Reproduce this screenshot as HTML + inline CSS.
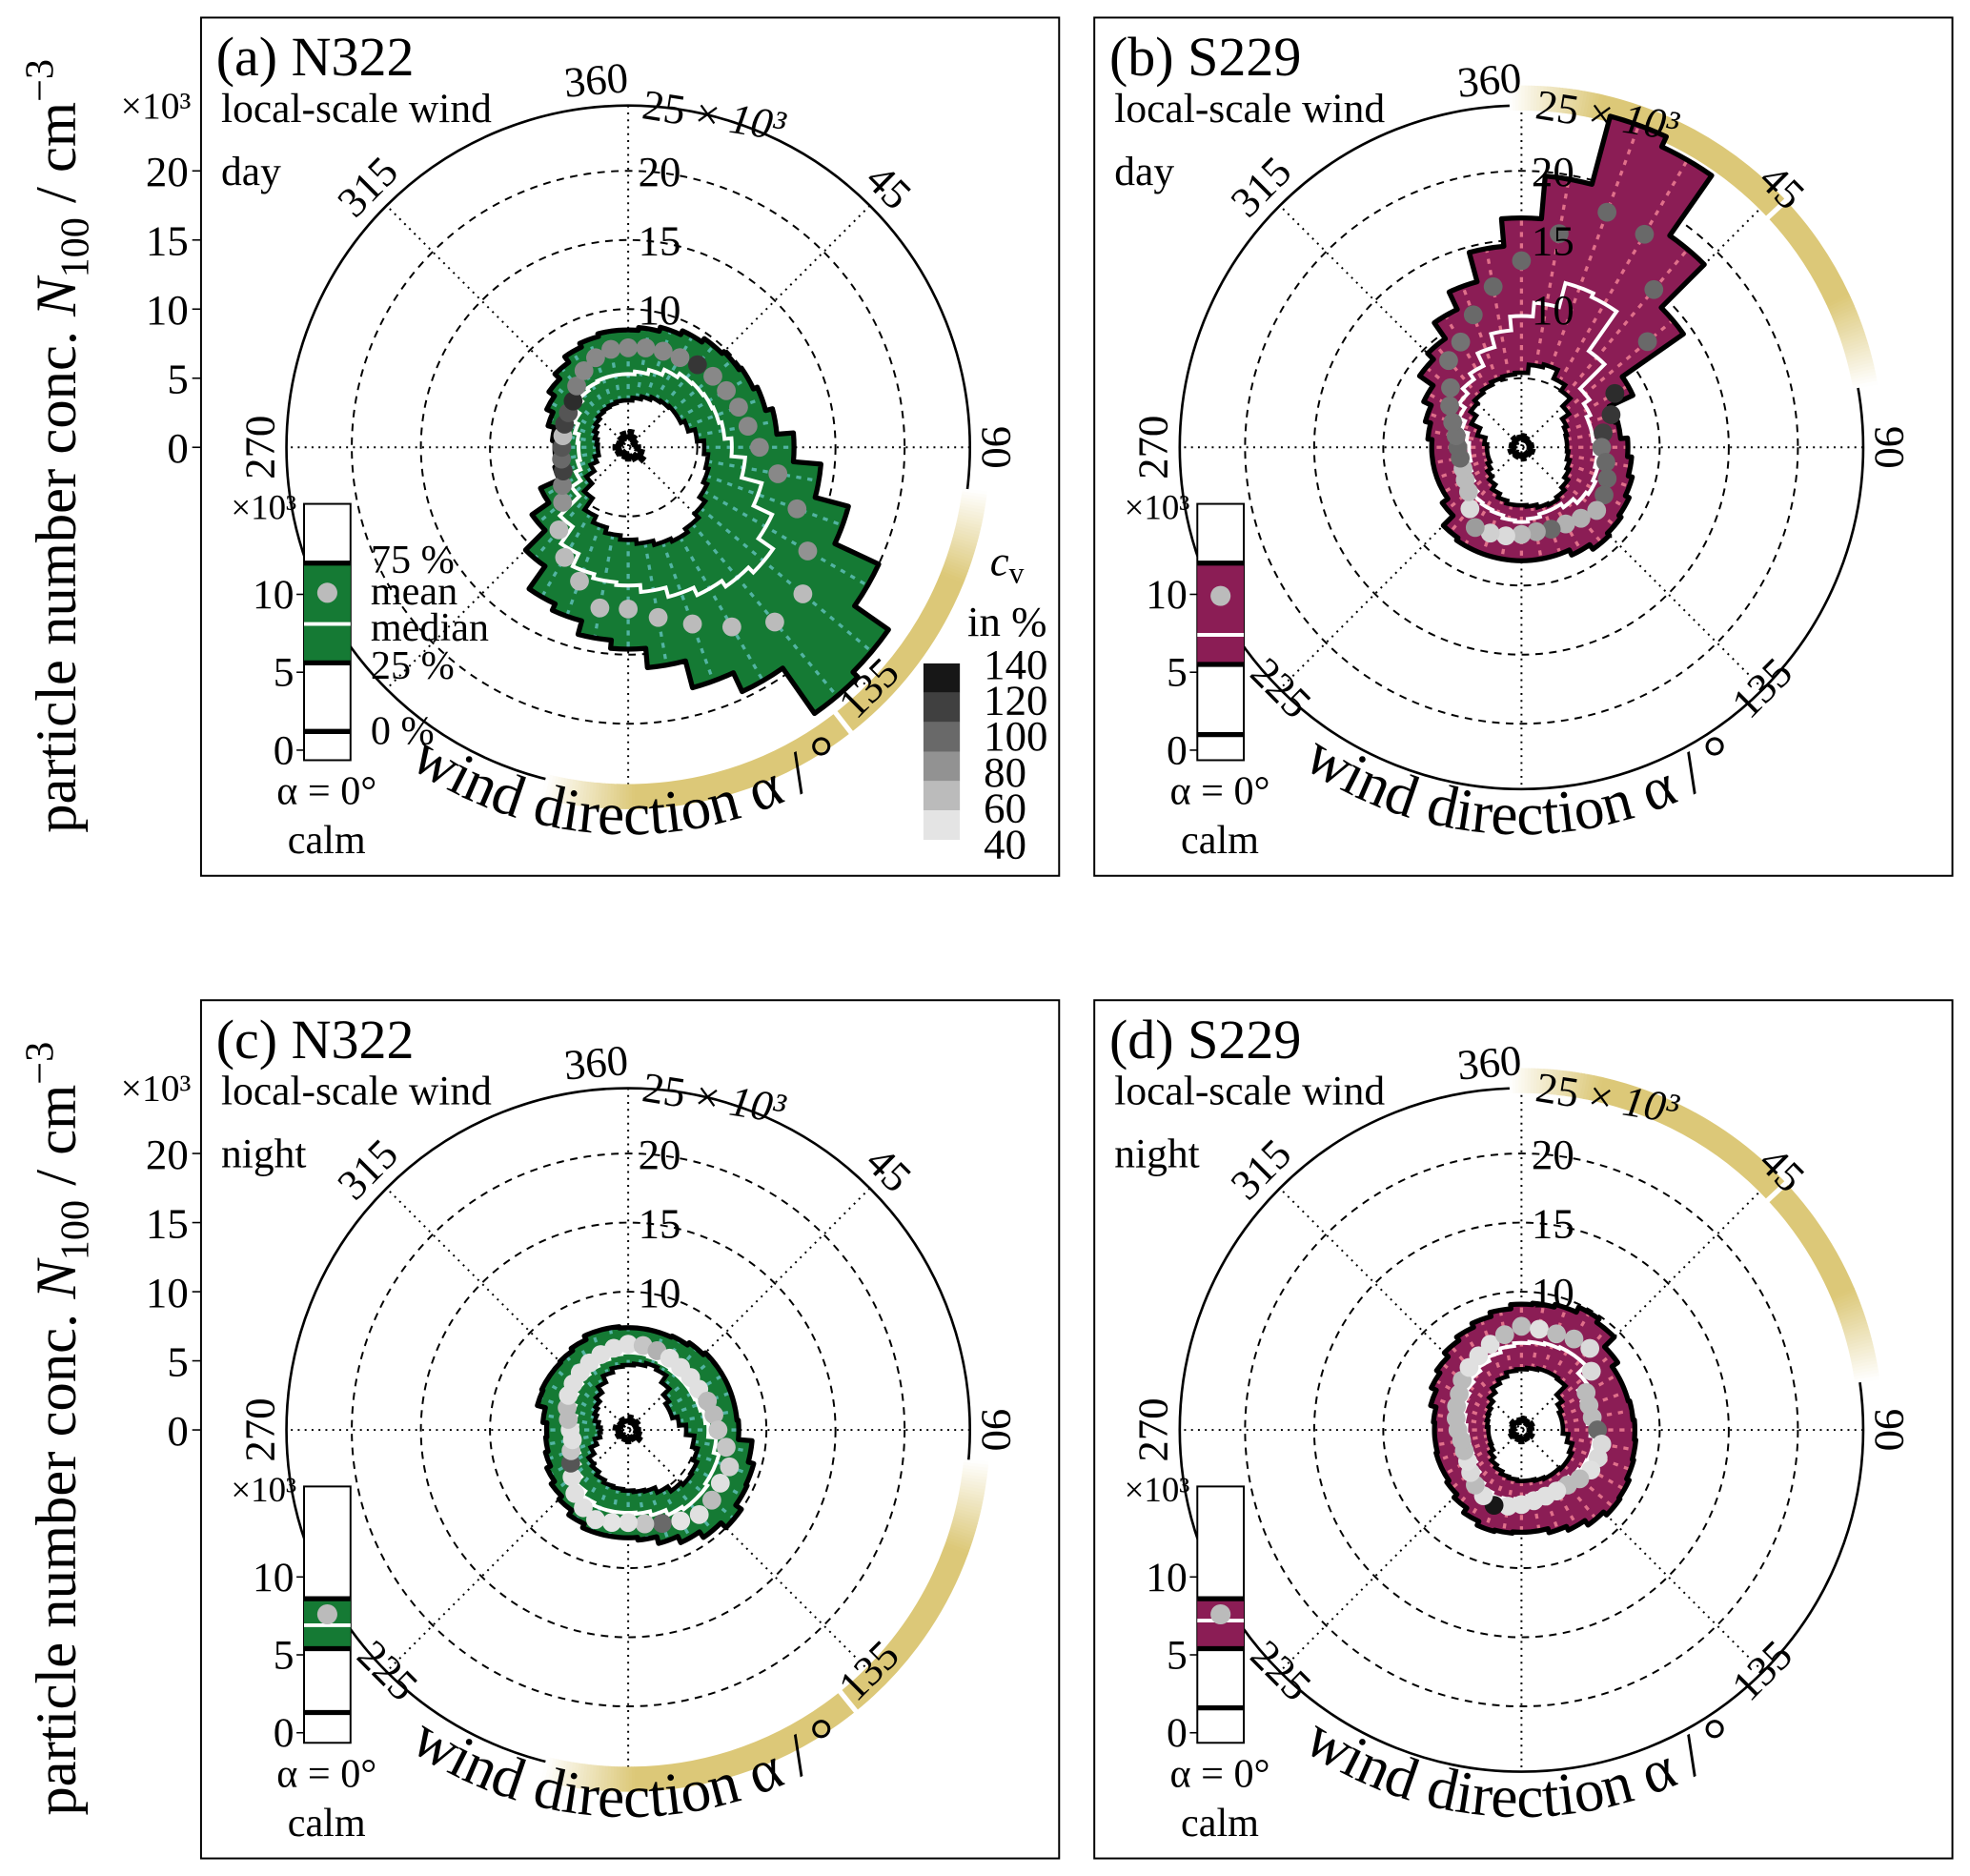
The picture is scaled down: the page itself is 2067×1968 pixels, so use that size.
<!DOCTYPE html>
<html><head><meta charset="utf-8"><style>
html,body{margin:0;padding:0;background:#fff}
svg{display:block}
text{font-family:"Liberation Serif",serif;fill:#000}
</style></head><body>
<svg id="fig" width="2067" height="1968" viewBox="0 0 1568 1493" preserveAspectRatio="none" xmlns="http://www.w3.org/2000/svg">
<rect width="1568" height="1493" fill="#fff"/>
</svg>
<script>
const dirs=[0,10,20,30,40,50,60,70,80,90,100,110,120,130,140,150,160,170,180,190,200,210,220,230,240,250,260,270,280,290,300,310,320,330,340,350];
// panel a (N322 day)
const aQ75=[8.5,8.7,9,9.3,9.6,9.8,10,10.3,10.8,12,14,16.5,20,23,23.5,19.5,18,16,14.6,14,13,12.5,10.5,8.5,7,5.5,5.3,5.3,5.5,6,6.5,7,7.5,8,8.3,8.5];
const aMed=[5.3,5.5,5.8,6.2,6.5,6.6,6.7,6.8,7,7.5,8.5,10,11.5,12.8,12.3,11.8,11.2,10.5,10,9.8,9.5,8.5,7,5,4.2,3.8,3.6,3.6,3.7,4,4.3,4.7,5,5.2,5.3,5.3];
const aQ25=[3.4,3.6,3.8,4,4.1,4.2,4.2,4.5,5,5.5,5.8,6,6.3,6.8,7.2,7.5,7.3,7,6.7,6.4,6,5.5,4.5,3.7,3,2.5,2.2,2.2,2.3,2.5,2.7,2.9,3.1,3.2,3.3,3.4];
const aMean=[7.2,7.3,7.4,7.5,7.8,8,8.2,8.5,8.8,9.5,11,13,15,16.5,16.5,15,13.6,12.5,11.7,11.8,10.3,9.2,7.8,6.2,5.5,5,4.9,4.8,4.8,4.9,5,5.2,5.8,6.4,6.9,7.2];
const aCv=[85,85,85,85,125,85,85,85,85,85,85,85,80,60,60,60,60,60,60,60,60,60,60,80,90,120,100,110,60,120,110,130,90,85,85,85];
const aMin=[0.8,1.2,0.6,0.9,0.5,0.7,0.4,0.6,0.5,0.8,0.6,1.1,0.9,1.4,0.7,1,0.8,0.6,0.9,0.5,0.8,0.6,0.4,0.7,0.9,0.6,0.8,1,0.6,0.8,0.5,0.7,0.9,0.6,1.1,0.7];
// panel b (S229 day)
const bQ75=[16.6,19.7,24.8,24,18.7,14.3,8.9,7,7.2,7.7,8,8.3,8.6,8.8,9,8.6,8.2,8.2,8.2,8.2,8.2,8.2,8,7,6.5,6.5,6.5,6.5,6.8,7.2,7.8,9,9.6,11,12.4,14.6];
const bMed=[9.5,10.5,12.3,12,8.5,6,5.5,5.2,5.2,5.3,5.5,5.7,5.9,5.7,5.3,5,5,5.2,5.4,5.3,5.1,5,4.9,4.5,4.2,4,3.8,3.8,4,4.5,5,5.5,6,6.5,7.5,8.5];
const bQ25=[5.4,6,6.2,5.5,5,4.2,3.6,3.4,3.3,3.3,3.4,3.6,3.8,4.1,4.4,4.6,4.5,4.3,4.2,4.2,4,3.7,3.3,3,2.7,2.5,2.5,2.5,2.7,3.3,4,4.5,4.8,5,5.2,5.3];
const bMean=[13.5,15.7,18.1,17.8,14.9,11.9,7.8,6.9,6,5.8,6.2,6.6,6.9,7.1,6.7,6.4,6.3,6.2,6.3,6.5,6.6,6.7,5.8,5,4.7,4.5,4.5,4.6,4.8,5.3,6,6.7,8.2,8.8,10.2,11.8];
const bCv=[100,100,100,100,100,100,130,125,120,95,100,100,100,65,65,65,100,70,60,45,50,75,45,60,60,60,100,100,95,95,95,95,95,95,100,100];
const bMin=[0.6,0.9,0.5,0.8,0.6,0.7,0.5,0.6,0.8,0.5,0.7,0.9,0.6,0.8,0.5,0.7,0.6,0.9,0.5,0.7,0.6,0.8,0.5,0.6,0.7,0.9,0.6,0.5,0.8,0.6,0.7,0.5,0.9,0.6,0.7,0.8];
// panel c (N322 night)
const cQ75=[7.4,7.4,7.4,7.5,7.7,7.9,7.9,7.9,7.9,8,9,9.4,9.5,10,9.5,9,8.5,8,7.8,7.8,7.8,7.5,7.1,6.8,6.5,6.2,6,5.9,6.2,6.8,6.9,6.9,7,7.2,7.5,7.5];
const cMed=[5.6,5.6,5.5,5.4,5.3,5.3,5.3,5.4,5.6,5.8,6.4,6.8,6.8,7,7,6.8,6.4,6.1,6,6,6,5.8,5.4,4.8,4.3,3.9,3.7,3.7,3.9,4.2,4.5,4.7,4.9,5.1,5.3,5.5];
const cQ25=[4.7,4.8,5,4.8,4.2,3.6,3.3,3.3,3.7,4.2,4.8,5.2,5.5,5.6,5.4,5,4.6,4.5,4.4,4.3,4.2,4,3.7,3.5,3,2.5,2.1,2,2.2,2.5,2.7,2.9,3.3,3.8,4.3,4.6];
const cMean=[6.2,6.2,6.1,6,5.9,5.9,5.9,6.1,6.3,6.5,7.2,7.8,7.7,7.9,8,7.6,7.2,6.9,6.7,6.8,6.9,6.5,6,5.3,4.8,4.4,4.1,4.2,4.4,4.7,5,5.2,5.4,5.6,5.8,6];
const cCv=[42,55,65,42,42,42,42,60,60,55,55,50,42,60,42,40,100,55,42,40,42,42,42,42,110,55,42,42,60,60,42,42,42,42,42,42];
const cMin=[0.7,1,0.5,0.8,0.6,0.9,0.5,0.7,0.6,0.8,0.5,0.9,0.7,1.1,0.6,0.8,0.5,0.7,0.9,0.6,0.8,0.5,0.7,0.6,0.9,0.5,0.8,0.6,1,0.7,0.5,0.8,0.6,0.9,0.7,0.6];
// panel d (S229 night)
const dQ75=[9.1,9.2,9.4,9.8,9.5,8.5,8,8,8.1,8.2,8.3,8.4,8.6,8.7,8.4,8,7.7,7.4,7.4,7.5,7.6,7.3,6.9,6.6,6.4,6.4,6.3,6.3,6.4,6.8,7.2,7.5,7.9,8.2,8.5,8.8];
const dMed=[6.3,6.4,6.5,6.6,6.6,5.8,5,4.8,4.8,5,5.3,5.3,5.2,5,4.8,4.7,4.7,4.8,5,5.1,5.2,5,4.7,4.3,4,3.9,3.9,4,4.2,4.4,4.6,4.9,5.2,5.5,5.8,6.1];
const dQ25=[4.4,4.5,4.6,4.6,4.5,3.6,3.2,3,3,3,3.4,3.8,4,4,3.9,3.9,3.8,3.7,3.7,3.6,3.5,3.3,3.1,2.8,2.5,2.4,2.4,2.4,2.5,2.6,2.7,2.9,3.3,3.7,4,4.3];
const dMean=[7.5,7.4,7.4,7.6,7.7,6.6,5.4,5.2,5.2,5.5,5.9,5.9,5.8,5.5,5.2,5.1,5.1,5.2,5.4,5.6,5.8,5.5,5.2,4.8,4.5,4.4,4.4,4.6,4.8,5,5.2,5.6,5.9,6.2,6.6,7];
const dCv=[60,42,60,60,45,45,60,60,60,100,45,45,42,60,60,42,42,42,42,42,140,42,60,45,42,60,60,60,60,60,60,60,42,42,42,60];
const dMin=[0.7,0.9,0.6,0.8,0.5,0.7,0.9,0.6,0.8,0.5,0.7,0.6,0.9,0.7,0.5,0.8,0.6,0.7,0.9,0.5,0.8,0.6,0.7,0.5,0.9,0.6,0.8,0.7,0.5,0.6,0.8,0.9,0.6,0.7,0.5,0.8];
// calm insets: [q25, median, mean, q75, min]
const aCalm=[5.6,8.1,10.1,12,1.2];
const bCalm=[5.5,7.4,9.9,12,1];
const cCalm=[5.4,6.9,7.6,8.6,1.3];
const dCalm=[5.4,7.2,7.6,8.6,1.6];
const ringCircles=[5,10,15,20];
const ringTicks=[10,15,20];
const yTicks=[0,5,10,15,20];
const cvLevels=[140,120,100,80,60,40];

const NS='http://www.w3.org/2000/svg';
const svg=document.getElementById('fig');
const PX=11;
function el(tag,attrs,parent){const e=document.createElementNS(NS,tag);for(const k in attrs)e.setAttribute(k,attrs[k]);(parent||svg).appendChild(e);return e;}
function pt(cx,cy,ang,r){const a=ang*Math.PI/180;return [cx+r*Math.sin(a),cy-r*Math.cos(a)];}
function rScale(v){return v*PX;}
function stepPath(cx,cy,vals){let d='';for(let i=0;i<dirs.length;i++){const r=rScale(vals[i]);const p0=pt(cx,cy,dirs[i]-5,r),p1=pt(cx,cy,dirs[i]+5,r);d+=(i?'L':'M')+p0[0].toFixed(1)+','+p0[1].toFixed(1)+' A'+r.toFixed(1)+','+r.toFixed(1)+' 0 0 1 '+p1[0].toFixed(1)+','+p1[1].toFixed(1)+' ';}return d+'Z';}
function gray(cv){const t=Math.max(0,Math.min(1,(cv-40)/100));const v=Math.round(228-t*205);return 'rgb('+v+','+v+','+v+')';}
function txt(x,y,s,size,parent,extra){const t=el('text',Object.assign({x:x,y:y,'font-size':size},extra||{}),parent);t.textContent=s;return t;}
function mix(op){const r=Math.round(255-(255-220)*op),g=Math.round(255-(255-200)*op),b=Math.round(255-(255-120)*op);return 'rgb('+r+','+g+','+b+')';}

function panel(cfg){
  const g=el('g',{});
  
  
  const {cx,cy,ox,oy}=cfg;
  const fr=el('rect',{x:160+ox,y:14+oy,width:683,height:683,fill:'none',stroke:'#000','stroke-width':1.5},g);
  
  const grid=el('g',{},g);
  for(const v of ringCircles){el('circle',{cx:cx,cy:cy,r:rScale(v),fill:'none',stroke:'#000','stroke-width':1.5,'stroke-dasharray':'6 5'},grid);}
  for(let a=0;a<180;a+=45){const p0=pt(cx,cy,a,272),p1=pt(cx,cy,a+180,272);el('line',{x1:p0[0],y1:p0[1],x2:p1[0],y2:p1[1],stroke:'#000','stroke-width':1.5,'stroke-dasharray':'1.5 4'},grid);}
  el('circle',{cx:cx,cy:cy,r:272,fill:'none',stroke:'#000','stroke-width':2},grid);
  const gold=el('g',{},g);
  
  const [g0,g1]=cfg.gold;const fade=15;
  const m0=g0+fade,m1=g1-fade;
  { const p0=pt(cx,cy,m0,278),p1=pt(cx,cy,m1,278);
    el('path',{d:'M'+p0+' A278,278 0 '+((m1-m0)>180?1:0)+' 1 '+p1,stroke:mix(1),'stroke-width':20,fill:'none'},gold); }
  for(let a=g0;a<m0;a+=0.5){const op=(a-g0+0.25)/fade;const p0=pt(cx,cy,a,278),p1=pt(cx,cy,a+0.6,278);
    el('path',{d:'M'+p0+' A278,278 0 0 1 '+p1,stroke:mix(op),'stroke-width':20,fill:'none'},gold);}
  for(let a=m1;a<g1;a+=0.5){const op=(g1-a-0.25)/fade;const p0=pt(cx,cy,a-0.1,278),p1=pt(cx,cy,a+0.5,278);
    el('path',{d:'M'+p0+' A278,278 0 0 1 '+p1,stroke:mix(op),'stroke-width':20,fill:'none'},gold);}
  const tk0=pt(cx,cy,cfg.goldTick,266),tk1=pt(cx,cy,cfg.goldTick,290);
  el('line',{x1:tk0[0],y1:tk0[1],x2:tk1[0],y2:tk1[1],stroke:'#fff','stroke-width':4},gold);
  const band=el('path',{d:stepPath(cx,cy,cfg.q75)+' '+stepPath(cx,cy,cfg.q25),fill:cfg.color,'fill-rule':'evenodd'},g);
  
  for(let i=0;i<dirs.length;i++){const p0=pt(cx,cy,dirs[i],rScale(cfg.q25[i])),p1=pt(cx,cy,dirs[i],rScale(cfg.q75[i]));
    el('line',{x1:p0[0],y1:p0[1],x2:p1[0],y2:p1[1],stroke:cfg.light,'stroke-width':2.5,'stroke-dasharray':'4 5'},g);}
  const med=el('path',{d:stepPath(cx,cy,cfg.med),fill:'none',stroke:'#fff','stroke-width':3},g);
  
  const o75=el('path',{d:stepPath(cx,cy,cfg.q75),fill:'none',stroke:'#000','stroke-width':4,'stroke-linejoin':'round'},g);
  
  const o25=el('path',{d:stepPath(cx,cy,cfg.q25),fill:'none',stroke:'#000','stroke-width':3.5},g);
  
  const mn=el('path',{d:stepPath(cx,cy,cfg.min),fill:'none',stroke:'#000','stroke-width':3},g);
  
  for(let i=0;i<dirs.length;i++){const p=pt(cx,cy,dirs[i],rScale(cfg.mean[i]));
    const c=el('circle',{cx:p[0],cy:p[1],r:7.5,fill:gray(cfg.cv[i])},g);
    }
  const labs=[[360,-5],[45,45],[90,90],[135,135],[225,225],[270,270],[315,315]];
  for(const [a,ang] of labs){if(a===225&&cfg.no225)continue;const p=pt(cx,cy,ang,282);let rot=ang<=180?ang:ang-360;if(ang>90&&ang<270)rot=ang-180;
    const t=txt(p[0],p[1],String(a),34,g,{'text-anchor':'middle',transform:'rotate('+rot+' '+p[0]+' '+p[1]+')'});
    }
  for(const v of ringTicks){const t=txt(cx+8,cy-rScale(v)+12,String(v),34,g);}
  const t25=txt(cx+10,cy-262,'',34,g,{transform:'rotate(9 '+(cx+10)+' '+(cy-262)+')'});
  t25.innerHTML='25 × <tspan font-style="italic">10³</tspan>';
  
  const pa=pt(cx,cy,238,308),pb=pt(cx,cy,122,308);
  el('path',{id:'wd'+cfg.id,d:'M'+pa+' A308,308 0 0 0 '+pb,fill:'none'},g);
  const wt=el('text',{'font-size':48},g);
  const tp=el('textPath',{href:'#wd'+cfg.id,startOffset:'50%','text-anchor':'middle'},wt);tp.textContent='wind direction α / °';
  const t1=txt(172+ox,60+oy,cfg.title,44,g);
  const t2=txt(176+ox,97+oy,'local-scale wind',33,g);
  const t3=txt(176+ox,147+oy,cfg.time,33,g);
  const ins=el('g',{},g);
  const bx=242+ox,bw=37,y0=597+oy,s=12.4;const cy2=v=>y0-v*s;
  el('rect',{x:bx,y:401+oy,width:bw,height:204,fill:'#fff',stroke:'#000','stroke-width':1.5},ins);
  const [q25,md,mean,q75,mi]=cfg.calm;
  el('rect',{x:bx,y:cy2(q75),width:bw,height:cy2(q25)-cy2(q75),fill:cfg.color},ins);
  el('line',{x1:bx,y1:cy2(md),x2:bx+bw,y2:cy2(md),stroke:'#fff','stroke-width':3},ins);
  for(const v of [q75,q25,mi])el('line',{x1:bx,y1:cy2(v),x2:bx+bw,y2:cy2(v),stroke:'#000','stroke-width':4},ins);
  el('circle',{cx:bx+bw/2,cy:cy2(mean),r:8,fill:'#bbb'},ins);
  for(const v of [0,5,10]){txt(bx-8,cy2(v)+11,String(v),33,ins,{'text-anchor':'end'});el('line',{x1:bx-6,y1:cy2(v),x2:bx,y2:cy2(v),stroke:'#000','stroke-width':1.2},ins);}
  txt(bx-6,413+oy,'×10³',28,ins,{'text-anchor':'end'});
  txt(bx+18,640+oy,'α = 0°',32,ins,{'text-anchor':'middle'});
  txt(bx+18,679+oy,'calm',32,ins,{'text-anchor':'middle'});
}

const green='#157a34',greenL='#52b4a2',mag='#8b1d55',magL='#e0708a';
panel({id:'a',name:'panel-a-n322-day',cx:500,cy:356,ox:0,oy:0,title:'(a) N322',time:'day',color:green,light:greenL,q75:aQ75,med:aMed,q25:aQ25,mean:aMean,cv:aCv,min:aMin,calm:aCalm,gold:[97,194],goldTick:142,no225:true});
panel({id:'b',name:'panel-b-s229-day',cx:1211,cy:356,ox:711,oy:0,title:'(b) S229',time:'day',color:mag,light:magL,q75:bQ75,med:bMed,q25:bQ25,mean:bMean,cv:bCv,min:bMin,calm:bCalm,gold:[-2,80],goldTick:47});
panel({id:'c',name:'panel-c-n322-night',cx:500,cy:1138,ox:0,oy:782,title:'(c) N322',time:'night',color:green,light:greenL,q75:cQ75,med:cMed,q25:cQ25,mean:cMean,cv:cCv,min:cMin,calm:cCalm,gold:[95,194],goldTick:141});
panel({id:'d',name:'panel-d-s229-night',cx:1211,cy:1138,ox:711,oy:782,title:'(d) S229',time:'night',color:mag,light:magL,q75:dQ75,med:dMed,q25:dQ25,mean:dMean,cv:dCv,min:dMin,calm:dCalm,gold:[-2,82],goldTick:47});

for(const oy of [0,782]){
  const ga=el('g',{});
  for(const v of yTicks){const y=356+oy-v*PX;txt(150,y+12,String(v),34,ga,{'text-anchor':'end'});el('line',{x1:153,y1:y,x2:160,y2:y,stroke:'#000','stroke-width':1.2},ga);}
  txt(152,94+oy,'×10³',30,ga,{'text-anchor':'end'});
  const yt=el('text',{x:0,y:0,'font-size':46,'text-anchor':'middle',transform:'translate(60,'+(355+oy)+') rotate(-90)'},ga);
  
  yt.innerHTML='particle number conc. <tspan font-style="italic">N</tspan><tspan font-size="32" dy="10">100</tspan><tspan dy="-10"> / cm</tspan><tspan font-size="32" dy="-18">−3</tspan>';
}
const lg=el('g',{});
[['75 %',456],['mean',481],['median',510],['25 %',540],['0 %',592]].forEach(([s,y])=>txt(295,y,s,32,lg));
const cl=el('g',{});
const cvt=el('text',{x:788,y:458,'font-size':34},cl);cvt.innerHTML='<tspan font-style="italic">c</tspan><tspan font-size="24" dy="6">v</tspan>';
txt(770,506,'in %',34,cl);
cvLevels.forEach((v,i)=>{const y=528+i*23.4;const r=el('rect',{x:735,y:y,width:29,height:23.4,fill:gray(v)},cl);txt(783,540+i*28.6,String(v),34,cl);});
</script>
</body></html>
